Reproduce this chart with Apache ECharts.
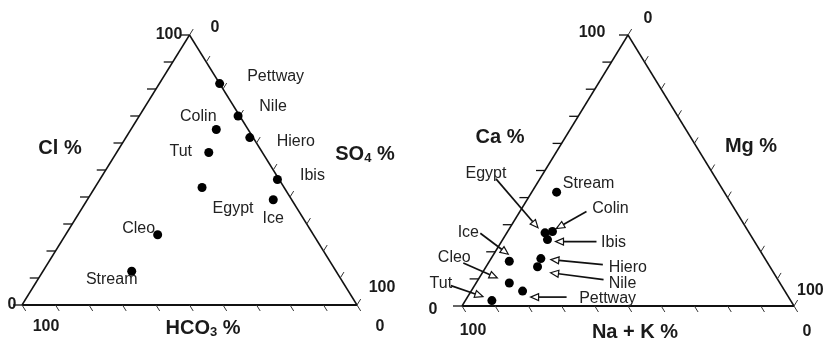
<!DOCTYPE html>
<html><head><meta charset="utf-8">
<script src="https://cdn.jsdelivr.net/npm/echarts@6/dist/echarts.min.js"></script>
<style>html,body{margin:0;padding:0;background:#fff}#c{width:823px;height:345px}</style>
</head><body><div id="c"></div>
<script>
// ---------- data ----------
const sites      = ['Pettway','Nile','Hiero','Ibis','Ice','Colin','Tut','Egypt','Cleo','Stream'];
// anion triangle (Cl apex, SO4 right, HCO3 left)
const anionCl    = [82, 70, 62, 46.5, 39, 65, 56.5, 43.5, 26, 12.5];
const anionSO4   = [18, 29.5, 37, 53, 55.5, 25.5, 27.5, 32, 27.5, 26.5];
const anionHCO3  = [0, 0.5, 1, 0.5, 5.5, 9.5, 16, 24.5, 46.5, 61];
// cation triangle (Ca apex, Mg right, Na+K left)
const cationCa   = [5.5, 14.5, 17.5, 24.5, 16.5, 27.5, 2, 27, 8.5, 42];
const cationMg   = [15.5, 15.5, 15, 13.5, 6, 13.5, 8, 11.5, 10, 7.5];
const cationNaK  = [79, 70, 67.5, 62, 77.5, 59, 90, 61.5, 81.5, 50.5];
const tickValues = [0,10,20,30,40,50,60,70,80,90,100];
const endLabelMin = '0', endLabelMax = '100';

// ---------- layout (pixel offsets, not data) ----------
const leftLabelOffset = {
  Pettway:[56,-7], Nile:[35,-9], Hiero:[46,4], Ibis:[35,-4], Ice:[0,19],
  Colin:[-18,-13], Tut:[-28,-1], Egypt:[31,21], Cleo:[-19,-6], Stream:[-20,8]
};
const rightLabelOffset = {
  Egypt:[-59,-59], Stream:[32,-9], Colin:[58,-23], Ibis:[66,3], Hiero:[87,9],
  Nile:[85,17], Pettway:[85,7], Ice:[-41,-29], Cleo:[-55,-25], Tut:[-51,-17]
};
const rightArrow = { // [tailDx, tailDy, headDx, headDy]
  Egypt:[-49,-54,-7,-5], Colin:[34,-20,4,-3], Ibis:[49,2,8,2], Hiero:[62,6,10,1],
  Nile:[66,13,13,6], Pettway:[44,6,8,6], Ice:[-29,-28,-1,-7], Cleo:[-46,-20,-12,-5],
  Tut:[-41,-15,-9,-4]
};

function toXY(top, right, left){
  const s = top + right + left;
  const t = top / s * 100, r = right / s * 100;
  return [r + t / 2, t];
}

const FONT = '"Liberation Sans", Arial, Helvetica, sans-serif';
const INK = '#111';

function frameRender(params, api){
  const A = api.coord([0,0]), B = api.coord([100,0]), C = api.coord([50,100]);
  return {type:'group', children:[
    {type:'line', shape:{x1:A[0],y1:A[1],x2:B[0],y2:B[1]}, style:{stroke:INK, lineWidth:2}},
    {type:'line', shape:{x1:A[0],y1:A[1],x2:C[0],y2:C[1]}, style:{stroke:INK, lineWidth:1.5}},
    {type:'line', shape:{x1:C[0],y1:C[1],x2:B[0],y2:B[1]}, style:{stroke:INK, lineWidth:1.5}}
  ]};
}
function norm(v){ const l = Math.hypot(v[0], v[1]); return [v[0]/l, v[1]/l]; }
function tickRender(params, api){
  const v = api.value(0);
  const A = api.coord([0,0]), B = api.coord([100,0]), C = api.coord([50,100]);
  const dLeft = norm([C[0]-A[0], C[1]-A[1]]);   // up-right
  const dRight = norm([B[0]-C[0], B[1]-C[1]]);  // down-right
  const pL = api.coord([v/2, v]);
  const pR = api.coord([50 + v/2, 100 - v]);
  const pB = api.coord([100 - v, 0]);
  const st = {stroke:'#333', lineWidth:1};
  return {type:'group', children:[
    {type:'line', shape:{x1:pL[0], y1:pL[1], x2:pL[0]-9, y2:pL[1]}, style:{stroke:INK, lineWidth:1.3}},
    {type:'line', shape:{x1:pR[0], y1:pR[1], x2:pR[0]+dLeft[0]*7, y2:pR[1]+dLeft[1]*7}, style:st},
    {type:'line', shape:{x1:pB[0], y1:pB[1], x2:pB[0]+dRight[0]*7, y2:pB[1]+dRight[1]*7}, style:st}
  ]};
}

const leftData = sites.map((n,i)=>({
  name:n, value: toXY(anionCl[i], anionSO4[i], anionHCO3[i]),
  label:{offset: leftLabelOffset[n]}
}));
const rightData = sites.map((n,i)=>({
  name:n, value: toXY(cationCa[i], cationMg[i], cationNaK[i]),
  label:{offset: rightLabelOffset[n]}
}));
const arrowData = rightData.filter(d => rightArrow[d.name]).map(d => ({name:d.name, value:d.value}));

function arrowRender(params, api){
  const name = arrowData[params.dataIndex].name;
  const a = rightArrow[name];
  const p = api.coord([api.value(0), api.value(1)]);
  const tail = [p[0]+a[0], p[1]+a[1]], tip = [p[0]+a[2], p[1]+a[3]];
  const d = norm([tip[0]-tail[0], tip[1]-tail[1]]);
  const n = [-d[1], d[0]];
  const L = 8, W = 3.5;
  const base = [tip[0]-d[0]*L, tip[1]-d[1]*L];
  return {type:'group', children:[
    {type:'line', shape:{x1:tail[0], y1:tail[1], x2:base[0], y2:base[1]}, style:{stroke:INK, lineWidth:1.7}},
    {type:'polygon', shape:{points:[tip, [base[0]+n[0]*W, base[1]+n[1]*W], [base[0]-n[0]*W, base[1]-n[1]*W]]},
     style:{fill:'#fff', stroke:INK, lineWidth:1.2}}
  ]};
}

const labelStyle = {show:true, formatter:'{b}', position:'inside', color:'#222', fontSize:16, fontFamily:FONT};

function txt(x, y, text, size, extra){
  return Object.assign({type:'text', style:Object.assign({
    x, y, text, fill:'#1a1a1a', fontSize:size, fontWeight:'bold', fontFamily:FONT,
    align:'center', verticalAlign:'middle', textAlign:'center', textVerticalAlign:'middle'
  }, extra || {})});
}
const richTitle = {
  a:{fontSize:20, fontWeight:'bold', fontFamily:FONT, fill:'#1a1a1a', color:'#1a1a1a', lineHeight:22},
  s:{fontSize:13, fontWeight:'bold', fontFamily:FONT, fill:'#1a1a1a', color:'#1a1a1a', lineHeight:12, verticalAlign:'bottom'}
};

const chart = echarts.init(document.getElementById('c'), null, {renderer:'canvas'});
chart.setOption({
  animation:false,
  backgroundColor:'#fff',
  grid:[
    {left:22, top:35, width:335, height:270},
    {left:462, top:35, width:332, height:271}
  ],
  xAxis:[
    {gridIndex:0, type:'value', min:0, max:100, show:false},
    {gridIndex:1, type:'value', min:0, max:100, show:false}
  ],
  yAxis:[
    {gridIndex:0, type:'value', min:0, max:100, show:false},
    {gridIndex:1, type:'value', min:0, max:100, show:false}
  ],
  series:[
    {type:'custom', xAxisIndex:0, yAxisIndex:0, data:[[0]], renderItem:frameRender, silent:true},
    {type:'custom', xAxisIndex:1, yAxisIndex:1, data:[[0]], renderItem:frameRender, silent:true},
    {type:'custom', xAxisIndex:0, yAxisIndex:0, data:tickValues.map(v=>[v]), renderItem:tickRender, silent:true},
    {type:'custom', xAxisIndex:1, yAxisIndex:1, data:tickValues.map(v=>[v]), renderItem:tickRender, silent:true},
    {type:'custom', xAxisIndex:1, yAxisIndex:1, data:arrowData, renderItem:arrowRender, silent:true, z:3},
    {type:'scatter', xAxisIndex:0, yAxisIndex:0, data:leftData, symbolSize:9,
     itemStyle:{color:'#000', opacity:1}, label:labelStyle, z:4},
    {type:'scatter', xAxisIndex:1, yAxisIndex:1, data:rightData, symbolSize:9,
     itemStyle:{color:'#000', opacity:1}, label:labelStyle, z:4}
  ],
  graphic:[
    // left triangle
    txt(169, 35, endLabelMax, 16),
    txt(215, 28, endLabelMin, 16),
    txt(12, 305, endLabelMin, 16),
    txt(46, 327, endLabelMax, 16),
    txt(380, 327, endLabelMin, 16),
    txt(382, 288, endLabelMax, 16),
    txt(60, 148, 'Cl %', 20),
    txt(365, 154, '{a|SO}{s|4}{a| %}', 20, {rich:richTitle}),
    txt(203, 328, '{a|HCO}{s|3}{a| %}', 20, {rich:richTitle}),
    // right triangle
    txt(592, 33, endLabelMax, 16),
    txt(648, 19, endLabelMin, 16),
    txt(433, 310, endLabelMin, 16),
    txt(473, 331, endLabelMax, 16),
    txt(807, 332, endLabelMin, 16),
    txt(797, 291, endLabelMax, 16, {align:'left', textAlign:'left'}),
    txt(500, 137, 'Ca %', 20),
    txt(751, 146, 'Mg %', 20),
    txt(635, 332, 'Na + K %', 20)
  ]
});
</script></body></html>
